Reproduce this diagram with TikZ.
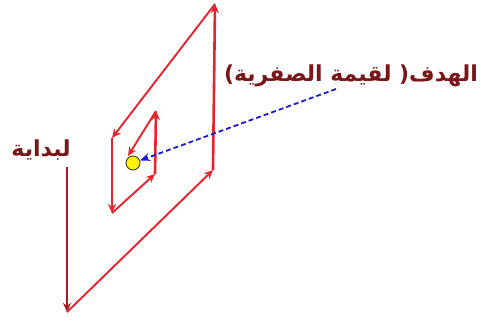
\documentclass[tikz,border=0pt]{standalone}
\usepackage{fontspec}
\newfontfamily\arabicfont[Script=Arabic]{DejaVu Sans}
\TeXXeTstate=1
\usetikzlibrary{arrows.meta}
\definecolor{pathred}{HTML}{E8232C}
\definecolor{startred}{HTML}{A01E24}
\definecolor{labelbrown}{HTML}{7A1518}
\definecolor{goalblue}{HTML}{1A1AD0}
\begin{document}
\begin{tikzpicture}[x=1pt,y=-1pt,
  seg/.style={draw=pathred,line width=2.6pt,-{Stealth[length=9pt,width=8pt]}},
  thinseg/.style={draw=pathred,line width=1.9pt,-{Stealth[length=9pt,width=8pt]}},
  lbl/.style={text=labelbrown,font=\arabicfont\bfseries\fontsize{22}{26}\selectfont,inner sep=0pt}]
\useasboundingbox (0,0) rectangle (481,323);
\coordinate (s0) at (67,167);
\coordinate (p1) at (67,312);
\coordinate (p2) at (213,170);
\coordinate (p3) at (215,4);
\coordinate (p4) at (112,138);
\coordinate (p5) at (112,213);
\coordinate (p6) at (155,174);
\coordinate (p7) at (156,111);
\coordinate (p8) at (128,156);
\draw[draw=startred,line width=2pt,-{Stealth[length=9pt,width=8pt]}] (s0) -- (p1);
\draw[thinseg] (p1) -- (p2);
\draw[seg] (p2) -- (p3);
\draw[thinseg] (p3) -- (p4);
\draw[seg] (p4) -- (p5);
\draw[thinseg] (p5) -- (p6);
\draw[seg] (p6) -- (p7);
\draw[thinseg] (p7) -- (p8);
\node[circle,draw=black!70!olive,fill=yellow,line width=0.9pt,minimum size=14pt,inner sep=0pt] (goal) at (133,163) {};
\coordinate (gstart) at (336,89);
\draw[goalblue,line width=1.8pt,dash pattern=on 5pt off 3pt,-{Stealth[length=10pt,width=8pt]}] (gstart) -- (goal);
\node[lbl] (goallabel) at (351,76) {\beginR الهدف( لقيمة الصفرية)\endR};
\node[lbl] (startlabel) at (41,150) {\beginR لبداية\endR};
\end{tikzpicture}
\end{document}
